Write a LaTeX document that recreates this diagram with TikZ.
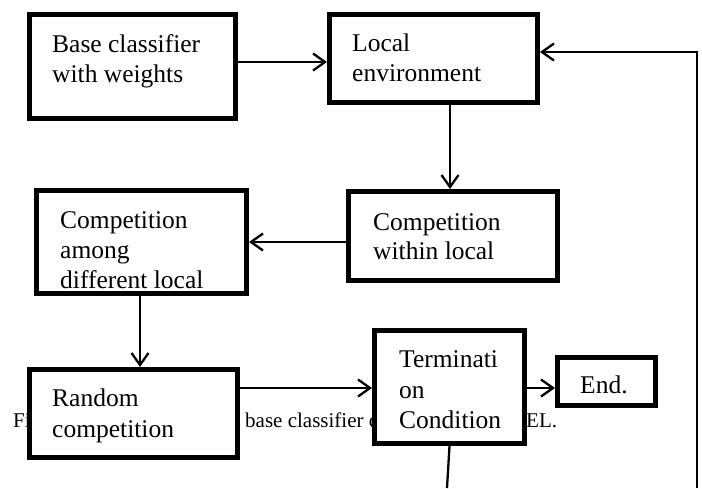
\documentclass[tikz,border=0pt]{standalone}
\usepackage{fontspec}
\setmainfont{Liberation Serif}
\usetikzlibrary{arrows.meta}
\begin{document}
\begin{tikzpicture}[x=1pt,y=-1pt,
  box/.style={draw, line width=5pt, fill=white, inner sep=0pt},
  lbl/.style={anchor=base west, inner sep=0pt, font=\fontsize{25.5}{30}\selectfont},
  captext/.style={anchor=base west, inner sep=0pt, font=\fontsize{21}{25}\selectfont},
  conn/.style={line width=2.3pt},
  arr/.style={conn, -{Straight Barb[length=12pt,width=17pt]}}]
\fill[white] (0,0) rectangle (702,488);
\useasboundingbox (0,0) rectangle (702,488);
% caption fragments lying behind the boxes
\node[captext] (c1) at (13,427) {Fig.};
\node[captext] (c2) at (245,427) {base classifier c};
\node[captext] (c3) at (526,427) {EL.};
% boxes
\node[box, minimum width=206pt, minimum height=104pt] (b1) at (132.5,66.5) {};
\node[box, minimum width=208pt, minimum height=88pt] (b2) at (433.5,58.5) {};
\node[box, minimum width=209pt, minimum height=89pt] (b3) at (453,236) {};
\node[box, minimum width=210pt, minimum height=103pt] (b4) at (141.5,242) {};
\node[box, minimum width=208pt, minimum height=88pt] (b5) at (133.5,413.5) {};
\node[box, minimum width=150pt, minimum height=113pt] (b6) at (449.5,387) {};
\node[box, minimum width=98pt, minimum height=48pt] (b7) at (606.5,381.5) {};
% texts
\node[lbl] (t1a) at (52,52) {Base classifier};
\node[lbl] (t1b) at (52,82) {with weights};
\node[lbl] (t2a) at (352,51) {Local};
\node[lbl] (t2b) at (352,81) {environment};
\node[lbl] (t3a) at (373,230) {Competition};
\node[lbl] (t3b) at (373,259) {within local};
\node[lbl] (t4a) at (60,228) {Competition};
\node[lbl] (t4b) at (60,258) {among};
\node[lbl] (t4c) at (60,288) {different local};
\node[lbl] (t5a) at (52,406) {Random};
\node[lbl] (t5b) at (52,437) {competition};
\node[lbl] (t6a) at (399,367) {Terminati};
\node[lbl] (t6b) at (399,398) {on};
\node[lbl] (t6c) at (399,428) {Condition};
\node[lbl] (t7) at (580,393) {End.};
% connectors
\coordinate (y62) at (0,62);
\coordinate (x450) at (450,0);
\coordinate (y242) at (0,242);
\coordinate (x140) at (140,0);
\coordinate (y388) at (0,388);
\coordinate (y52) at (0,52);
\coordinate (bot) at (447,488);
\coordinate (fb) at (697,488);
\draw[arr] (b1.east |- y62) -- (b2.west |- y62);
\draw[arr] (b2.south -| x450) -- (b3.north -| x450);
\draw[arr] (b3.west |- y242) -- (b4.east |- y242);
\draw[arr] (b4.south -| x140) -- (b5.north -| x140);
\draw[arr] (b5.east |- y388) -- (b6.west |- y388);
\draw[arr] (b6.east |- y388) -- (b7.west |- y388);
\draw[conn] (b6.south) -- (bot);
\draw[arr] (fb) |- (b2.east |- y52);
\end{tikzpicture}
\end{document}
